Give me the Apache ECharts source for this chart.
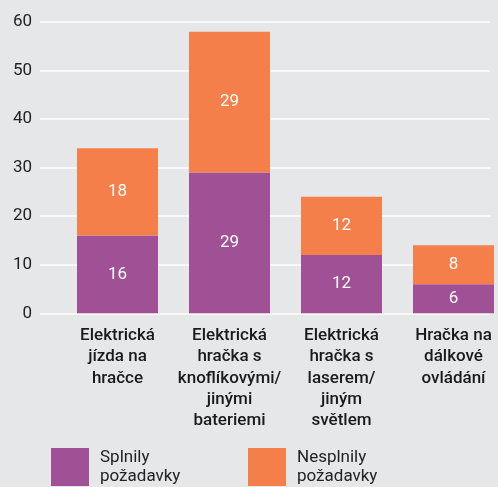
<!DOCTYPE html>
<html>
<head>
<meta charset="utf-8">
<script src="https://cdn.jsdelivr.net/npm/echarts@6/dist/echarts.min.js"></script>
<style>
html,body{margin:0;padding:0;background:#e6e7e8;}
#c{width:498px;height:487px;}
</style>
</head>
<body>
<div id="c"></div>
<script>
var categories = [
  "Elektrická\njízda na\nhračce",
  "Elektrická\nhračka s\nknoflíkovými/\njinými\nbateriemi",
  "Elektrická\nhračka s\nlaserem/\njiným\nsvětlem",
  "Hračka na\ndálkové\novládání"
];
var splnily = [16, 29, 12, 6];
var nesplnily = [18, 29, 12, 8];
var yTicks = [0, 10, 20, 30, 40, 50, 60];
var seriesNames = ["Splnily požadavky", "Nesplnily požadavky"];

var FONT = "Roboto, 'Noto Sans', sans-serif";
var PURPLE = "#a05094";
var ORANGE = "#f47f4a";

var chart = echarts.init(document.getElementById('c'));
var legendCommon = {
  top: 448,
  padding: 0,
  itemWidth: 38,
  itemHeight: 38,
  icon: 'rect',
  selectedMode: false,
  formatter: function (n) { return n.replace(' ', '\n'); },
  textStyle: { fontFamily: FONT, fontSize: 17, color: '#222', lineHeight: 19, padding: [0, 0, 0, 6] }
};
chart.setOption({
  backgroundColor: '#e6e7e8',
  animation: false,
  textStyle: { fontFamily: FONT },
  legend: [
    Object.assign({}, legendCommon, { left: 51, data: [seriesNames[0]] }),
    Object.assign({}, legendCommon, { left: 248, data: [seriesNames[1]] })
  ],
  grid: [
    { left: 40, right: 8, top: 22, bottom: 173.7, outerBoundsMode: 'none', containLabel: false },
    { left: 61.5, right: -11.5, top: 22, bottom: 173.7, outerBoundsMode: 'none', containLabel: false }
  ],
  xAxis: [
    { gridIndex: 0, type: 'value', show: false, min: 0, max: 1 },
    {
      gridIndex: 1, type: 'category', data: categories,
      axisLine: { show: false }, axisTick: { show: false },
      axisLabel: {
        interval: 0, margin: 12, color: '#1a1a1a', fontSize: 17, fontWeight: 500,
        lineHeight: 21.2, fontFamily: FONT
      }
    }
  ],
  yAxis: [
    {
      gridIndex: 0, type: 'value', min: yTicks[0], max: yTicks[yTicks.length - 1], interval: 10,
      axisLine: { show: false }, axisTick: { show: false },
      splitLine: { lineStyle: { color: '#ffffff', width: 1.6 } },
      axisLabel: { margin: 8, color: '#222', fontSize: 17, fontFamily: FONT }
    },
    {
      gridIndex: 1, type: 'value', min: yTicks[0], max: yTicks[yTicks.length - 1], interval: 10, show: false,
      splitLine: { show: false }
    }
  ],
  series: [
    {
      name: seriesNames[0], type: 'bar', stack: 's', xAxisIndex: 1, yAxisIndex: 1,
      data: splnily, barWidth: 81, itemStyle: { color: PURPLE },
      label: { show: true, position: 'inside', color: '#fff', fontSize: 17, fontFamily: FONT }
    },
    {
      name: seriesNames[1], type: 'bar', stack: 's', xAxisIndex: 1, yAxisIndex: 1,
      data: nesplnily, barWidth: 81, itemStyle: { color: ORANGE },
      label: { show: true, position: 'inside', color: '#fff', fontSize: 17, fontFamily: FONT }
    }
  ]
});
</script>
</body>
</html>
